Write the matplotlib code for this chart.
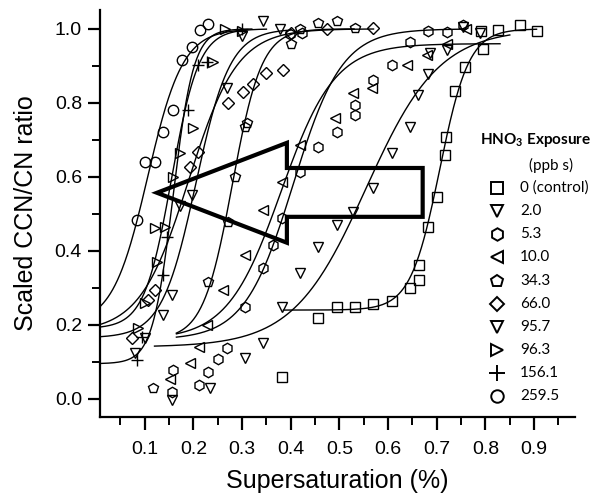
import numpy as np
import matplotlib
matplotlib.use("Agg")
import matplotlib.pyplot as plt
from matplotlib.patches import Polygon
from matplotlib.lines import Line2D
from matplotlib.ticker import MultipleLocator, FixedLocator

plt.rcParams['font.family'] = ['Liberation Sans', 'DejaVu Sans']
plt.rcParams['mathtext.fontset'] = 'custom'
plt.rcParams['mathtext.rm'] = 'Lato'
plt.rcParams['mathtext.bf'] = 'Lato:bold'

# ---- HNO3 exposure series (ppb s) ----
labels = ["0 (control)", "2.0", "5.3", "10.0", "34.3", "66.0", "95.7", "96.3", "156.1", "259.5"]
markers = ["s", "v", "h", "<", "p", "D", "v", ">", "+", "o"]

x_ctrl = [0.382, 0.456, 0.495, 0.532, 0.569, 0.608, 0.645, 0.663, 0.663, 0.682, 0.700, 0.717,
          0.719, 0.737, 0.758, 0.790, 0.795, 0.825, 0.871, 0.905]
y_ctrl = [0.059, 0.219, 0.249, 0.249, 0.257, 0.265, 0.300, 0.320, 0.362, 0.465, 0.546, 0.660,
          0.708, 0.832, 0.897, 0.995, 0.946, 0.997, 1.010, 0.995]

x_2p0 = [0.156, 0.234, 0.306, 0.343, 0.382, 0.419, 0.456, 0.495, 0.528, 0.569, 0.608, 0.645,
         0.661, 0.682, 0.686, 0.720, 0.754, 0.789]
y_2p0 = [-0.003, 0.030, 0.111, 0.152, 0.249, 0.340, 0.410, 0.470, 0.505, 0.570, 0.665, 0.735,
         0.820, 0.878, 0.935, 0.943, 1.005, 0.990]

x_5p3 = [0.156, 0.158, 0.212, 0.230, 0.250, 0.269, 0.306, 0.343, 0.363, 0.382, 0.419, 0.456,
         0.495, 0.532, 0.532, 0.569, 0.608, 0.645, 0.682, 0.720, 0.754, 0.398, 0.423]
y_5p3 = [0.019, 0.078, 0.038, 0.073, 0.108, 0.138, 0.249, 0.354, 0.416, 0.490, 0.614, 0.680,
         0.720, 0.768, 0.795, 0.862, 0.903, 0.965, 0.995, 0.992, 1.010, 0.985, 0.990]

x_10 = [0.152, 0.193, 0.212, 0.228, 0.261, 0.306, 0.343, 0.382, 0.419, 0.490, 0.528, 0.567,
        0.639, 0.680, 0.720, 0.760]
y_10 = [0.055, 0.097, 0.140, 0.200, 0.295, 0.390, 0.510, 0.587, 0.686, 0.760, 0.827, 0.840,
        0.903, 0.930, 0.960, 1.000]

x_34 = [0.117, 0.230, 0.271, 0.285, 0.306, 0.310, 0.400, 0.419, 0.456, 0.495, 0.532]
y_34 = [0.030, 0.316, 0.478, 0.600, 0.735, 0.746, 0.960, 1.000, 1.016, 1.020, 1.003]

x_66 = [0.074, 0.107, 0.121, 0.193, 0.210, 0.270, 0.302, 0.323, 0.350, 0.384, 0.400, 0.475, 0.569]
y_66 = [0.165, 0.268, 0.295, 0.627, 0.668, 0.800, 0.830, 0.850, 0.880, 0.890, 0.990, 1.000, 1.003]

x_95 = [0.080, 0.100, 0.138, 0.156, 0.172, 0.197, 0.269, 0.300, 0.343, 0.378]
y_95 = [0.124, 0.165, 0.227, 0.280, 0.520, 0.551, 0.840, 0.980, 1.020, 1.000]

x_96 = [0.086, 0.100, 0.125, 0.121, 0.142, 0.158, 0.172, 0.200, 0.240, 0.265, 0.300]
y_96 = [0.192, 0.260, 0.370, 0.462, 0.465, 0.600, 0.664, 0.732, 0.910, 1.000, 0.995]

x_156 = [0.084, 0.094, 0.138, 0.146, 0.189, 0.210, 0.228, 0.300]
y_156 = [0.105, 0.168, 0.335, 0.438, 0.780, 0.903, 0.910, 1.000]

x_259 = [0.084, 0.100, 0.121, 0.138, 0.158, 0.177, 0.197, 0.214, 0.230]
y_259 = [0.484, 0.640, 0.640, 0.720, 0.780, 0.916, 0.950, 0.997, 1.013]

xs = [x_ctrl, x_2p0, x_5p3, x_10, x_34, x_66, x_95, x_96, x_156, x_259]
ys = [y_ctrl, y_2p0, y_5p3, y_10, y_34, y_66, y_95, y_96, y_156, y_259]

# ---- sigmoid fit parameters (lower, upper, centre, width, drawn range) ----
fit_lo = [0.24, 0.14, 0.16, 0.16, 0.16, 0.18, 0.165, 0.19, 0.095, 0.20]
fit_hi = [1.00, 1.00, 1.00, 0.96, 1.00, 1.00, 1.00, 1.00, 1.00, 1.00]
fit_x0 = [0.706, 0.555, 0.405, 0.380, 0.280, 0.190, 0.205, 0.155, 0.158, 0.106]
fit_w = [0.030, 0.075, 0.050, 0.055, 0.030, 0.050, 0.035, 0.028, 0.021, 0.036]
fit_start = [0.385, 0.120, 0.165, 0.165, 0.165, 0.010, 0.010, 0.010, 0.010, 0.010]
fit_end = [0.905, 0.850, 0.760, 0.830, 0.530, 0.570, 0.400, 0.350, 0.320, 0.300]


def sigmoid(x, lo, hi, x0, w):
    return lo + (hi - lo) / (1.0 + np.exp(-(x - x0) / w))


W, H = 595, 496
fig = plt.figure(figsize=(W / 100, H / 100), dpi=100)
ax = fig.add_axes([100 / W, 79 / H, 475 / W, 407 / H])

for i in range(len(labels)):
    xf = np.linspace(fit_start[i], fit_end[i], 300)
    ax.plot(xf, sigmoid(xf, fit_lo[i], fit_hi[i], fit_x0[i], fit_w[i]),
            color="black", lw=1.0, zorder=2)

for i in range(len(labels)):
    m = markers[i]
    ms = 7.5
    if m == "D":
        ms = 6.0
    elif m == "s":
        ms = 6.5
    elif m == "+":
        ms = 9
    ax.plot(xs[i], ys[i], linestyle="none", marker=m, ms=ms,
            mfc="none", mec="black", mew=1.0, zorder=3)

# hollow arrow pointing towards lower supersaturation
arrow_pts = [(0.125, 0.557), (0.392, 0.692), (0.392, 0.624), (0.671, 0.624),
             (0.671, 0.492), (0.392, 0.492), (0.392, 0.422)]
ax.add_patch(Polygon(arrow_pts, closed=True, fill=False, ec="black", lw=3.0,
                     joinstyle="miter", zorder=4))

ax.set_xlim(0.008, 0.984)
ax.set_ylim(-0.049, 1.051)
ax.xaxis.set_major_locator(FixedLocator([0.1, 0.2, 0.3, 0.4, 0.5, 0.6, 0.7, 0.8, 0.9]))
ax.xaxis.set_minor_locator(FixedLocator([0.05, 0.15, 0.25, 0.35, 0.45, 0.55, 0.65, 0.75, 0.85, 0.95]))
ax.yaxis.set_major_locator(MultipleLocator(0.2))
ax.yaxis.set_minor_locator(MultipleLocator(0.1))
ax.set_xticklabels(["0.1", "0.2", "0.3", "0.4", "0.5", "0.6", "0.7", "0.8", "0.9"])
ax.yaxis.set_major_formatter(matplotlib.ticker.FormatStrFormatter("%.1f"))

for s in ("top", "right"):
    ax.spines[s].set_visible(False)
for s in ("left", "bottom"):
    ax.spines[s].set_linewidth(1.6)
ax.tick_params(which="major", direction="out", length=9, width=1.6, labelsize=14, pad=4)
ax.tick_params(which="minor", direction="out", length=6, width=1.4)
ax.tick_params(axis="x", which="major", pad=8)

ax.set_xlabel("Supersaturation (%)", fontsize=18, labelpad=8)
ax.set_ylabel("Scaled CCN/CN ratio", fontsize=18, labelpad=12)


# legend block
def fx(px):
    return px / W


def fy(py):
    return 1 - py / H


fig.text(fx(480), fy(140), r"HNO$_{\mathbf{3}}$ Exposure", fontsize=11, fontweight="bold",
         family="Lato", va="center", ha="left")
fig.text(fx(529), fy(165), "(ppb s)", fontsize=11, family="Lato", va="center", ha="left")
row_y = [188, 211, 234, 257, 281, 304, 327, 350, 373, 396]
for i in range(len(labels)):
    m = markers[i]
    ms = 9
    if m == "D":
        ms = 7.5
    elif m == "s":
        ms = 8
    elif m == "+":
        ms = 11
    fig.add_artist(Line2D([fx(497)], [fy(row_y[i])], transform=fig.transFigure, marker=m,
                          ms=ms, mfc="none", mec="black", mew=1.4, linestyle="none"))
    fig.text(fx(520), fy(row_y[i]), labels[i], fontsize=11, family="Lato",
             va="center", ha="left")

fig.savefig("out.png", dpi=100)
